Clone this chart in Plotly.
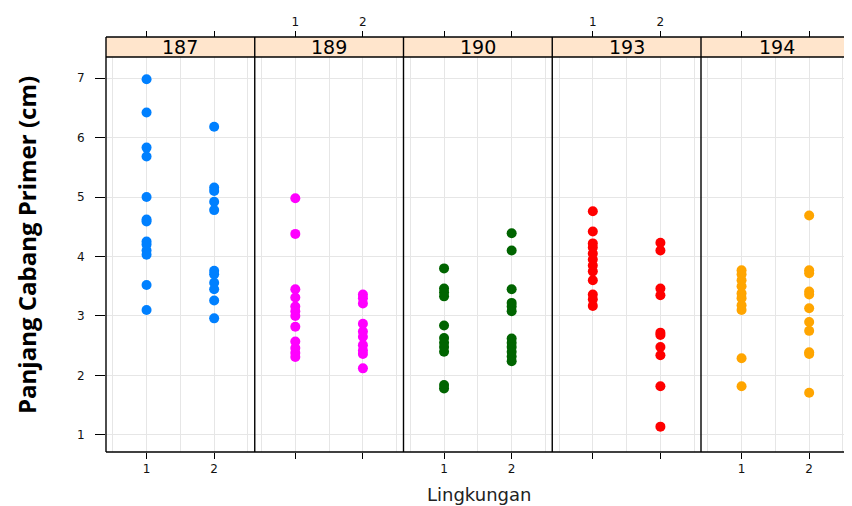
import plotly.graph_objects as go

# ---- data ----
panels = ["187", "189", "190", "193", "194"]
colors = ["#0080ff", "#ff00ff", "#006400", "#ff0000", "#ffa500"]
x_ticks = [1, 2]
x_tick_text = ["1", "2"]
y_ticks = [1, 2, 3, 4, 5, 6, 7]

p187_env1 = [6.98, 6.42, 5.83, 5.68, 5.00, 4.62, 4.59, 4.25, 4.20, 4.10, 4.03, 3.52, 3.10]
p187_env2 = [6.18, 5.16, 5.10, 4.92, 4.78, 3.76, 3.70, 3.56, 3.45, 3.26, 2.96]
p189_env1 = [4.98, 4.38, 3.45, 3.31, 3.16, 3.08, 3.00, 2.82, 2.57, 2.46, 2.38, 2.31]
p189_env2 = [3.36, 3.30, 3.21, 2.87, 2.74, 2.65, 2.51, 2.42, 2.36, 2.12]
p190_env1 = [3.80, 3.46, 3.40, 3.33, 2.84, 2.63, 2.55, 2.48, 2.40, 1.84, 1.78]
p190_env2 = [4.39, 4.10, 3.45, 3.22, 3.16, 3.08, 2.62, 2.55, 2.48, 2.40, 2.32, 2.24]
p193_env1 = [4.76, 4.42, 4.22, 4.15, 4.05, 3.95, 3.85, 3.75, 3.60, 3.36, 3.28, 3.17]
p193_env2 = [4.23, 4.10, 3.46, 3.35, 2.72, 2.68, 2.48, 2.34, 1.82, 1.14]
p194_env1 = [3.77, 3.70, 3.60, 3.50, 3.38, 3.30, 3.18, 3.10, 2.29, 1.82]
p194_env2 = [4.69, 3.77, 3.72, 3.41, 3.36, 3.13, 2.90, 2.75, 2.39, 2.36, 1.71]

env1 = [p187_env1, p189_env1, p190_env1, p193_env1, p194_env1]
env2 = [p187_env2, p189_env2, p190_env2, p193_env2, p194_env2]

# ---- geometry (page has an 8px body margin) ----
OFF = 8
W, H = 852 - OFF, 506 - OFF
L, R, T, B = 106 - OFF, 0, 37 - OFF, 54
pw, ph = W - L - R, H - T - B
edges = [0, 148.75, 297.5, 446.25, 595, pw]
ytop = 395 / ph
px_per_unit = 67.6
grid_col = "#e6e6e6"
tick_font = dict(family="DejaVu Sans", size=12, color="#111111")


def px_to_paper(xp, yp):
    """page pixel -> paper coords"""
    return (xp - OFF - L) / pw, (H - B - (yp - OFF)) / ph


fig = go.Figure()
layout = {}
for i, name in enumerate(panels):
    xa = "x" if i == 0 else f"x{i+1}"
    xs = [1] * len(env1[i]) + [2] * len(env2[i])
    ys = env1[i] + env2[i]
    fig.add_trace(go.Scatter(x=xs, y=ys, mode="markers", xaxis=xa, yaxis="y",
                             marker=dict(color=colors[i], size=10, symbol="circle"),
                             showlegend=False, hoverinfo="x+y"))
    fig.add_trace(go.Scatter(x=[1.5], y=[None], mode="markers", xaxis=f"x{i+6}", yaxis="y",
                             marker=dict(opacity=0), showlegend=False, hoverinfo="skip"))
    e0, e1 = edges[i], edges[i + 1]
    dom = [e0 / pw, e1 / pw]
    rng = [0.4, 0.4 + (e1 - e0) / px_per_unit]
    key = "xaxis" if i == 0 else f"xaxis{i+1}"
    layout[key] = dict(domain=dom, range=rng, anchor="y", tickvals=x_ticks, ticktext=x_tick_text,
                       ticks="outside", ticklen=6, tickcolor="black", tickwidth=1,
                       showticklabels=(i % 2 == 0), showgrid=True, gridcolor=grid_col, gridwidth=1,
                       minor=dict(tickvals=[0.5, 1.5, 2.5], showgrid=True, gridcolor=grid_col,
                                  gridwidth=1, ticks=""),
                       zeroline=False, showline=False, tickfont=tick_font, fixedrange=True)
    layout[f"xaxis{i+6}"] = dict(domain=dom, range=rng, overlaying=xa, anchor="free", position=1,
                                 side="top", tickvals=x_ticks, ticktext=x_tick_text,
                                 ticks="outside", ticklen=6, tickcolor="black", tickwidth=1,
                                 showticklabels=(i % 2 == 1), showgrid=False, zeroline=False,
                                 showline=False, tickfont=tick_font, fixedrange=True)

layout["yaxis"] = dict(domain=[0, ytop], range=[0.714, 7.353], anchor="x", tickvals=y_ticks,
                       ticks="outside", ticklen=10, tickcolor="black", tickwidth=1,
                       ticklabelstandoff=8,
                       showgrid=True, gridcolor=grid_col, gridwidth=1, zeroline=False,
                       showline=False, tickfont=tick_font, fixedrange=True)

shapes = []
annotations = []
for i, name in enumerate(panels):
    x0, x1 = edges[i] / pw, edges[i + 1] / pw
    shapes.append(dict(type="rect", xref="paper", yref="paper", x0=x0, x1=x1, y0=ytop, y1=1,
                       fillcolor="#ffe5cc", line=dict(width=0), layer="below"))
    annotations.append(dict(text=name, xref="paper", yref="paper", x=(x0 + x1) / 2,
                            y=(ytop + 1) / 2, showarrow=False, xanchor="center", yanchor="middle",
                            font=dict(family="DejaVu Sans", size=19, color="black")))
line_style = dict(color="black", width=1.4)
for i in range(5):
    x = edges[i] / pw
    shapes.append(dict(type="line", xref="paper", yref="paper", x0=x, x1=x, y0=0, y1=1,
                       line=line_style))
for yv in [0, ytop, 1]:
    shapes.append(dict(type="line", xref="paper", yref="paper", x0=0, x1=1, y0=yv, y1=yv,
                       line=line_style))

tx, ty = px_to_paper(27, 245)
annotations.append(dict(text="<b>Panjang Cabang Primer (cm)</b>", xref="paper", yref="paper",
                        x=tx, y=ty, textangle=-90, showarrow=False,
                        xanchor="center", yanchor="middle",
                        font=dict(family="Open Sans", size=24, color="black")))
lx, ly = px_to_paper(479, 494)
annotations.append(dict(text="Lingkungan", xref="paper", yref="paper",
                        x=lx, y=ly, showarrow=False,
                        xanchor="center", yanchor="middle",
                        font=dict(family="DejaVu Sans", size=18, color="#222222")))

fig.update_layout(width=W, height=H, margin=dict(l=L, r=R, t=T, b=B, pad=0),
                  paper_bgcolor="white", plot_bgcolor="white",
                  shapes=shapes, annotations=annotations, **layout)

fig.write_html("out.html")
